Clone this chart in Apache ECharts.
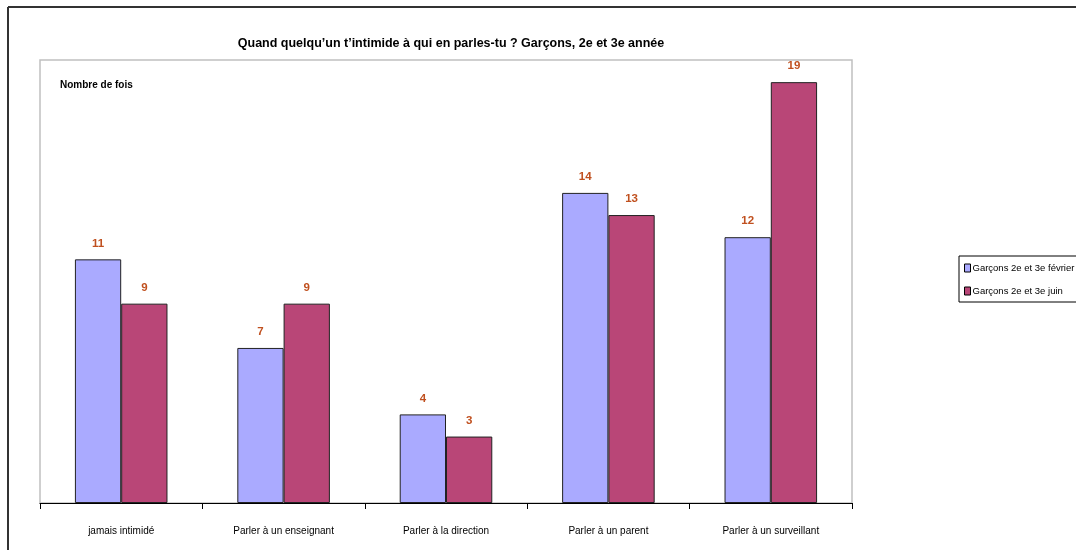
<!DOCTYPE html>
<html><head><meta charset="utf-8">
<script src="https://cdn.jsdelivr.net/npm/echarts@6/dist/echarts.min.js"></script>
<style>html,body{margin:0;padding:0;background:#fff}#c{width:1076px;height:550px}</style>
</head><body><div id="c"></div>
<script>
const categories = ["jamais intimidé", "Parler à un enseignant", "Parler à la direction", "Parler à un parent", "Parler à un surveillant"];
const seriesNames = ["Garçons 2e et 3e février", "Garçons 2e et 3e juin"];
const fevrier = [11, 7, 4, 14, 12];
const juin = [9, 9, 3, 13, 19];
const FONT = '"Liberation Sans Narrow", "Arial Narrow", "Liberation Sans", sans-serif';
const chart = echarts.init(document.getElementById('c'));
const labelStyle = {show: true, position: 'top', distance: 10, color: '#c0501f', fontWeight: 'bold', fontSize: 11.5, fontFamily: FONT};
chart.setOption({
  animation: false,
  title: {text: "Quand quelqu’un t’intimide à qui en parles-tu ? Garçons, 2e et 3e année", left: 446, textAlign: 'center', top: 32,
    textStyle: {fontFamily: FONT, fontWeight: 'bold', fontSize: 12.5, color: '#000'}},
  grid: {left: 40, right: 224, top: 60, bottom: 47, show: true, borderColor: '#c0c0c0', borderWidth: 1.5},
  legend: {orient: 'vertical', left: 959, top: 256, itemWidth: 6, itemHeight: 8, itemGap: 13, padding: [7, 6, 6, 5],
    borderColor: '#000', borderWidth: 1, icon: 'rect',
    itemStyle: {borderColor: '#000', borderWidth: 1},
    textStyle: {fontFamily: FONT, fontSize: 9.5, color: '#000', padding: [0,0,0,-3]}, data: seriesNames},
  xAxis: {type: 'category', data: categories,
    axisLine: {lineStyle: {color: '#000', width: 1}},
    axisTick: {show: true, length: 6, lineStyle: {color: '#000'}},
    axisLabel: {interval: 0, fontFamily: FONT, fontSize: 10, color: '#000', margin: 23}},
  yAxis: {type: 'value', min: 0, max: 20, show: false, splitLine: {show: false}},
  graphic: [
    {type: 'text', left: 60, top: 80, style: {text: 'Nombre de fois', fontFamily: FONT, fontWeight: 'bold', fontSize: 10, fill: '#000'}},
    {type: 'line', shape: {x1: 8, y1: 7, x2: 1076, y2: 7}, style: {stroke: '#333', lineWidth: 2}},
    {type: 'line', shape: {x1: 8, y1: 7, x2: 8, y2: 550}, style: {stroke: '#333', lineWidth: 2}}
  ],
  series: [
    {name: seriesNames[0], type: 'bar', data: fevrier, barGap: '0%', barCategoryGap: '43%',
      itemStyle: {color: '#aaaaff', borderColor: '#222', borderWidth: 1}, label: labelStyle},
    {name: seriesNames[1], type: 'bar', data: juin,
      itemStyle: {color: '#b94677', borderColor: '#222', borderWidth: 1}, label: labelStyle}
  ]
});
</script></body></html>
